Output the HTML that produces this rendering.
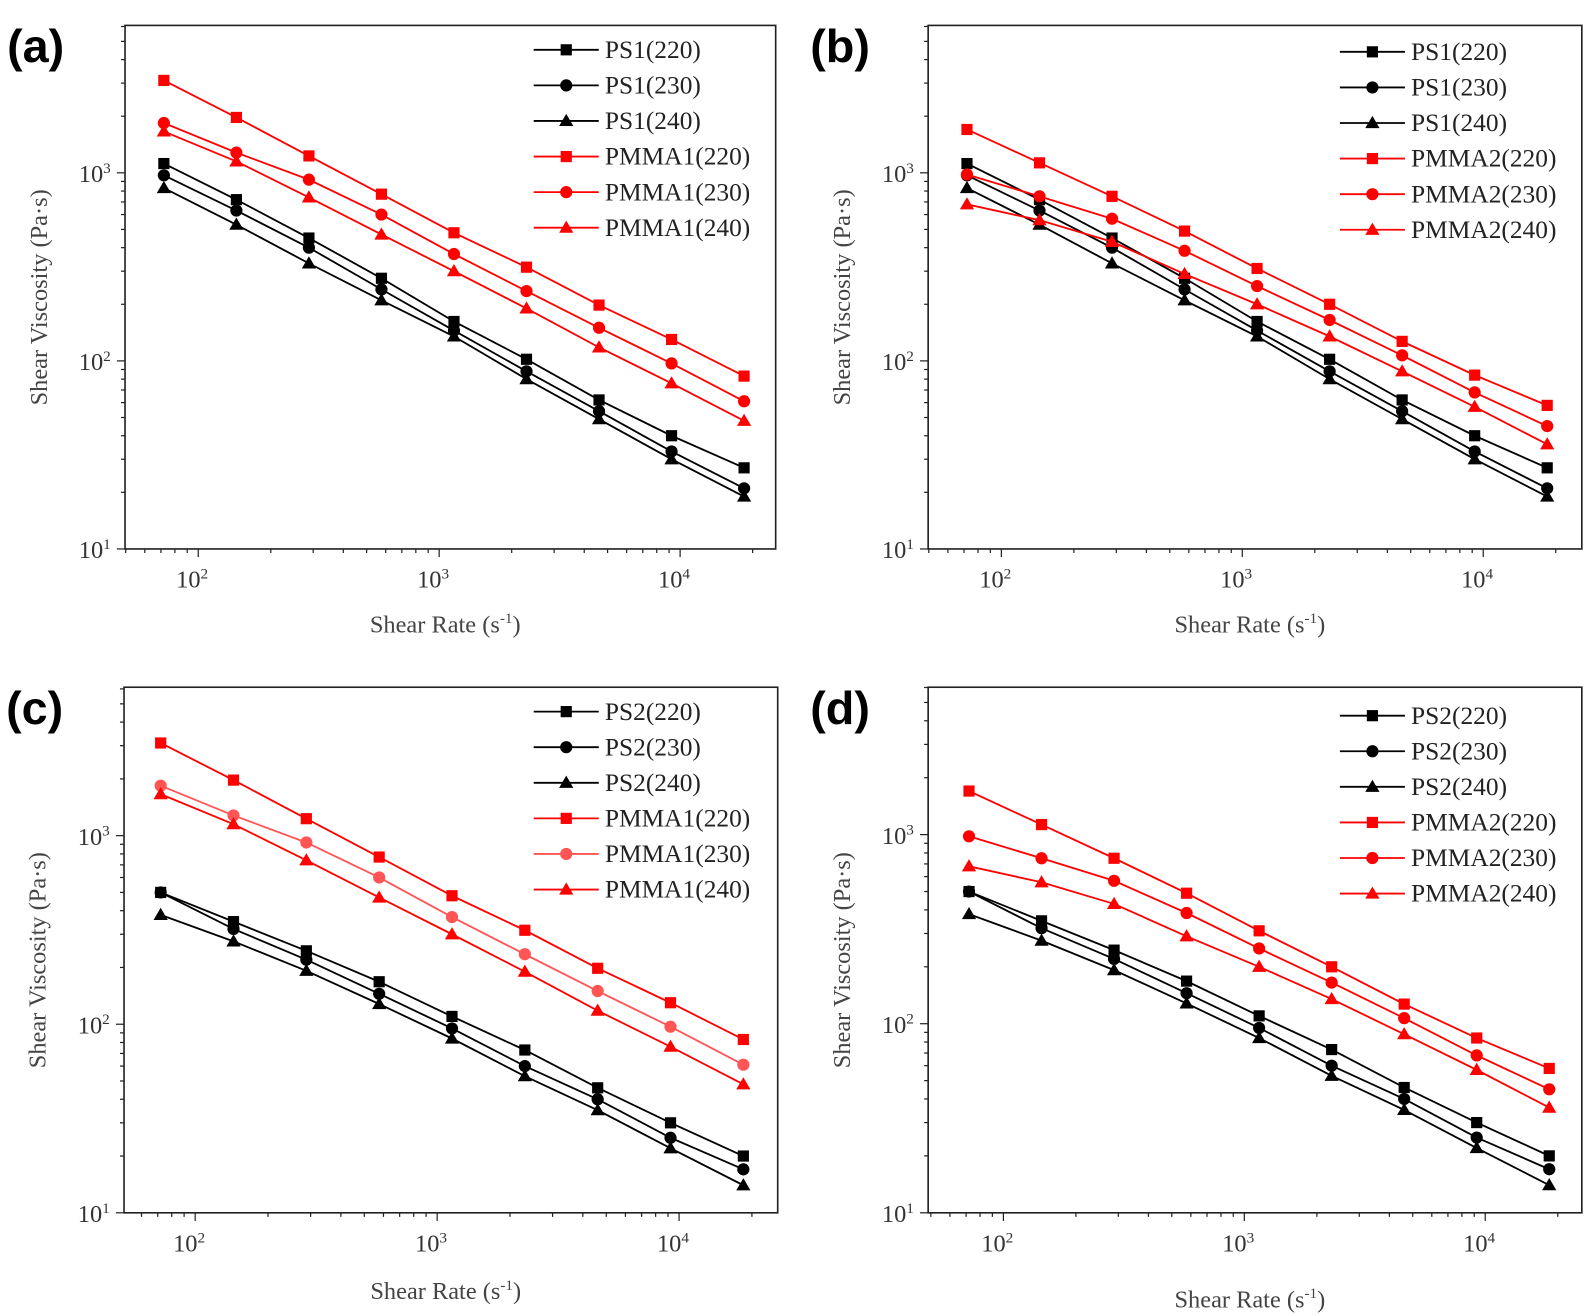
<!DOCTYPE html>
<html><head><meta charset="utf-8"><style>
html,body{margin:0;padding:0;background:#fff;}
svg{display:block;}
</style></head><body>
<svg width="1594" height="1316" xmlns="http://www.w3.org/2000/svg" font-family="Liberation Serif, serif"><g id="s" transform="scale(1.0166,1.0166)"></g></svg>
<script>
const S=document.getElementById('s');
let h='';
const ps1={a:[1120,720,450,275,162,102,62,40,27],b:[970,630,400,240,145,88,54,33,21],c:[830,530,330,210,135,80,49,30,19]};
const ps2={a:[500,350,245,168,110,73,46,30,20],b:[500,320,220,145,95,60,40,25,17],c:[380,275,192,128,84,53,35,22,14]};
const pm1={a:[3100,1970,1230,770,480,315,198,130,83],b:[1840,1280,920,600,370,235,150,97,61],c:[1660,1150,740,470,300,190,118,76,48]};
const pm2={a:[1700,1130,750,490,310,200,127,84,58],b:[980,750,570,385,250,165,107,68,45],c:[680,560,430,290,200,135,88,57,36]};
const panels=[
 {lab:'(a)',L:123,T:25,R:763,B:540,x2:195,x3:432,y3:170,y1:540,ps:ps1,pm:pm1,pn:'PS1',mn:'PMMA1',lx:525,ly:49,xl:614,lc:'#f00'},
 {lab:'(b)',L:913,T:25,R:1556,B:540,x2:985,x3:1222,y3:170,y1:540,ps:ps1,pm:pm2,pn:'PS1',mn:'PMMA2',lx:1318,ly:51,xl:614,lc:'#f00'},
 {lab:'(c)',L:122,T:676,R:765,B:1193,x2:192,x3:430,y3:822,y1:1193,ps:ps2,pm:pm1,pn:'PS2',mn:'PMMA1',lx:525,ly:700,xl:1270,lc:'#f55'},
 {lab:'(d)',L:913,T:676,R:1556,B:1193,x2:987,x3:1224,y3:821,y1:1193,ps:ps2,pm:pm2,pn:'PS2',mn:'PMMA2',lx:1318,ly:704,xl:1278,lc:'#f00'}
];
function mk(t,x,y,c){
 if(t=='a')return `<rect x="${x-5.5}" y="${y-5.5}" width="11" height="11" fill="${c}"/>`;
 if(t=='b')return `<circle cx="${x}" cy="${y}" r="6" fill="${c}"/>`;
 return `<polygon points="${x},${y-7} ${x+7},${y+5} ${x-7},${y+5}" fill="${c}"/>`;
}
panels.forEach(p=>{
 const dx=p.x3-p.x2, dy=(p.y1-p.y3)/2;
 const X=v=>p.x2+(Math.log10(v)-2)*dx;
 const Y=v=>p.y1-(Math.log10(v)-1)*dy;
 h+=`<text x="${p.L-116}" y="${p.T+36}" font-family="Liberation Sans, sans-serif" font-size="46" font-weight="bold">${p.lab}</text>`;
 h+=`<rect x="${p.L}" y="${p.T}" width="${p.R-p.L}" height="${p.B-p.T}" fill="none" stroke="#222" stroke-width="1.6"/>`;
 for(let d=1;d<=4;d++)for(let m=1;m<10;m++){const v=m*Math.pow(10,d);const x=X(v);if(x<p.L||x>p.R)continue;
  const len=m==1?8:4;h+=`<line x1="${x}" y1="${p.B}" x2="${x}" y2="${p.B+len}" stroke="#222" stroke-width="1.2"/>`;
  if(m==1&&d>=2)h+=`<text x="${x-6}" y="${p.B+38}" font-size="24" fill="#333" text-anchor="middle">10<tspan dy="-9" font-size="15">${d}</tspan></text>`;}
 for(let d=1;d<=3;d++)for(let m=1;m<10;m++){const v=m*Math.pow(10,d);const y=Y(v);if(y<p.T||y>p.B)continue;
  const len=m==1?8:4;h+=`<line x1="${p.L}" y1="${y}" x2="${p.L-len}" y2="${y}" stroke="#222" stroke-width="1.2"/>`;
  if(m==1)h+=`<text x="${p.L-14}" y="${y+9}" font-size="24" fill="#333" text-anchor="end">10<tspan dy="-9" font-size="15">${d}</tspan></text>`;}
 h+=`<text x="${(p.L+p.R)/2-5}" y="${p.xl+8}" font-size="24" fill="#444" text-anchor="middle">Shear Rate (s<tspan dy="-9" font-size="15">-1</tspan><tspan dy="9">)</tspan></text>`;
 h+=`<text transform="translate(${p.L-77},${(p.T+p.B)/2+10}) rotate(-90)" font-size="24" fill="#444" text-anchor="middle">Shear Viscosity (Pa·s)</text>`;
 const xs=[];for(let i=0;i<9;i++)xs.push(X(72*Math.pow(2,i)));
 const series=[];
 ['a','b','c'].forEach((k,i)=>series.push({d:p.ps[k],c:'#000',m:k,n:p.pn+'('+(220+10*i)+')'}));
 ['a','b','c'].forEach((k,i)=>series.push({d:p.pm[k],c:(k=='b'?p.lc:'#f00'),m:k,n:p.mn+'('+(220+10*i)+')'}));
 series.forEach(s=>{
  h+=`<polyline points="${s.d.map((v,i)=>xs[i]+','+Y(v)).join(' ')}" fill="none" stroke="${s.c}" stroke-width="1.8"/>`;
  s.d.forEach((v,i)=>h+=mk(s.m,xs[i],Y(v),s.c));
 });
 series.forEach((s,i)=>{const y=p.ly+35*i;
  h+=`<line x1="${p.lx}" y1="${y}" x2="${p.lx+64}" y2="${y}" stroke="${s.c}" stroke-width="1.8"/>`+mk(s.m,p.lx+32,y,s.c);
  h+=`<text x="${p.lx+70}" y="${y+8}" font-size="25" fill="#222">${s.n}</text>`;});
});
S.innerHTML=h;
</script>
</body></html>
